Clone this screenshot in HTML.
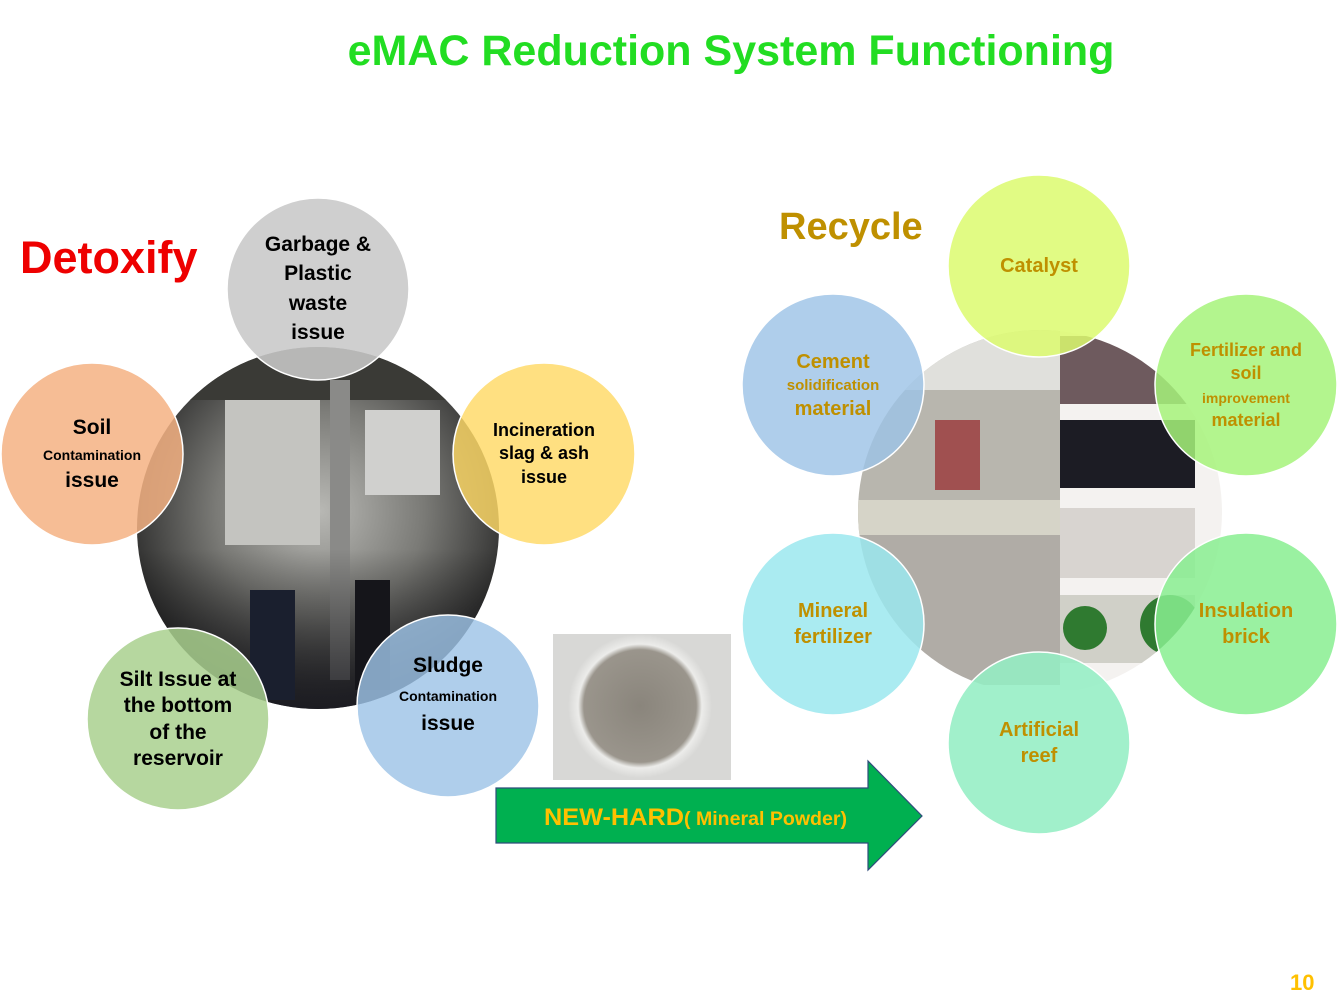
<!DOCTYPE html>
<html><head><meta charset="utf-8"><style>
html,body{margin:0;padding:0;background:#fff;}
svg{display:block;}
text{font-family:"Liberation Sans",sans-serif;font-weight:bold;}
</style></head><body>
<svg width="1344" height="1008" viewBox="0 0 1344 1008" xmlns="http://www.w3.org/2000/svg">
<defs>
<radialGradient id="fac" cx="50%" cy="45%" r="55%">
<stop offset="0" stop-color="#b8b8b4"/><stop offset="0.5" stop-color="#7a7a76"/><stop offset="1" stop-color="#222"/>
</radialGradient>
<linearGradient id="crowd" x1="0" y1="0" x2="0" y2="1">
<stop offset="0" stop-color="#000" stop-opacity="0"/><stop offset="0.55" stop-color="#000" stop-opacity="0"/><stop offset="1" stop-color="#1a1a22" stop-opacity="0.85"/>
</linearGradient>
<radialGradient id="pow" cx="50%" cy="50%" r="50%">
<stop offset="0" stop-color="#8a857c"/><stop offset="0.78" stop-color="#9a958c"/><stop offset="0.86" stop-color="#ececea"/><stop offset="1" stop-color="#d8d8d6"/>
</radialGradient>
<clipPath id="cl"><circle cx="318" cy="528" r="181"/></clipPath>
<clipPath id="cr"><circle cx="1040" cy="512" r="182"/></clipPath>
</defs>

<text x="731" y="65" font-size="43" fill="#22dd22" text-anchor="middle">eMAC Reduction System Functioning</text>
<text x="20" y="273" font-size="45" fill="#ee0000">Detoxify</text>
<text x="779" y="239" font-size="38" fill="#bf9000">Recycle</text>

<!-- left photo -->
<g clip-path="url(#cl)">
<rect x="130" y="340" width="380" height="380" fill="url(#fac)"/>
<rect x="130" y="340" width="380" height="60" fill="#3a3a36"/>
<rect x="225" y="400" width="95" height="145" fill="#c4c4c0"/>
<rect x="365" y="410" width="75" height="85" fill="#d0d0ce"/>
<rect x="330" y="380" width="20" height="300" fill="#8a8a88"/>
<rect x="130" y="340" width="380" height="380" fill="url(#crowd)"/>
<rect x="250" y="590" width="45" height="110" fill="#1a1f2e"/>
<rect x="355" y="580" width="35" height="110" fill="#15151a"/>
</g>
<!-- right photo -->
<g clip-path="url(#cr)">
<rect x="855" y="330" width="205" height="205" fill="#b8b6ae"/>
<rect x="855" y="330" width="205" height="60" fill="#e0e0dc"/>
<rect x="935" y="420" width="45" height="70" fill="#a05050"/>
<rect x="855" y="500" width="205" height="35" fill="#d6d4c8"/>
<rect x="855" y="535" width="205" height="150" fill="#b0aca6"/>
<rect x="1060" y="330" width="165" height="360" fill="#f4f2f0"/>
<rect x="1060" y="336" width="135" height="68" fill="#6e5a5e"/>
<rect x="1060" y="420" width="135" height="68" fill="#1c1c24"/>
<rect x="1060" y="508" width="135" height="70" fill="#d8d4d0"/>
<rect x="1060" y="595" width="135" height="68" fill="#d0d0c8"/>
<circle cx="1085" cy="628" r="22" fill="#2f7a30"/>
<circle cx="1170" cy="625" r="30" fill="#2f7a30"/>
</g>

<!-- powder -->
<rect x="553" y="634" width="178" height="146" fill="#d8d8d6"/>
<circle cx="640" cy="706" r="72" fill="url(#pow)"/>

<!-- arrow -->
<polygon points="496,788 868,788 868,761 922,816 868,870 868,843 496,843" fill="#00b050" stroke="#2e4d7b" stroke-width="1.2"/>
<text x="544" y="825" font-size="24" fill="#ffc000" textLength="140" lengthAdjust="spacingAndGlyphs">NEW-HARD</text>
<text x="684" y="825" font-size="19" fill="#ffc000" textLength="163" lengthAdjust="spacingAndGlyphs">( Mineral Powder)</text>

<!-- left circles -->
<g stroke="#fff" stroke-width="1.5">
<circle cx="318" cy="289" r="91" fill="#c8c8c8" fill-opacity="0.88"/>
<circle cx="92" cy="454" r="91" fill="#f4b183" fill-opacity="0.85"/>
<circle cx="544" cy="454" r="91" fill="#ffd965" fill-opacity="0.82"/>
<circle cx="178" cy="719" r="91" fill="#a9d08e" fill-opacity="0.85"/>
<circle cx="448" cy="706" r="91" fill="#9dc3e6" fill-opacity="0.82"/>
</g>
<g fill="#000" text-anchor="middle" font-size="21">
<text x="318" y="251">Garbage &amp;</text><text x="318" y="280">Plastic</text><text x="318" y="310">waste</text><text x="318" y="339">issue</text>
<text x="92" y="434">Soil</text><text x="92" y="460" font-size="14">Contamination</text><text x="92" y="487">issue</text>
<text x="544" y="436" font-size="18">Incineration</text><text x="544" y="459" font-size="18">slag &amp; ash</text><text x="544" y="483" font-size="18">issue</text>
<text x="178" y="686">Silt Issue at</text><text x="178" y="712">the bottom</text><text x="178" y="739">of the</text><text x="178" y="765">reservoir</text>
<text x="448" y="672">Sludge</text><text x="448" y="701" font-size="14">Contamination</text><text x="448" y="730">issue</text>
</g>

<!-- right circles -->
<g stroke="#fff" stroke-width="1.5">
<circle cx="1039" cy="266" r="91" fill="#dcfa6e" fill-opacity="0.85"/>
<circle cx="833" cy="385" r="91" fill="#9dc3e6" fill-opacity="0.82"/>
<circle cx="1246" cy="385" r="91" fill="#a6f37a" fill-opacity="0.85"/>
<circle cx="833" cy="624" r="91" fill="#9be8ee" fill-opacity="0.85"/>
<circle cx="1246" cy="624" r="91" fill="#88ee90" fill-opacity="0.85"/>
<circle cx="1039" cy="743" r="91" fill="#94eec4" fill-opacity="0.88"/>
</g>
<g fill="#bf9000" text-anchor="middle" font-size="20">
<text x="1039" y="272">Catalyst</text>
<text x="833" y="368">Cement</text><text x="833" y="390" font-size="15">solidification</text><text x="833" y="415">material</text>
<text x="1246" y="356" font-size="18">Fertilizer and</text><text x="1246" y="379" font-size="18">soil</text><text x="1246" y="403" font-size="14">improvement</text><text x="1246" y="426" font-size="18">material</text>
<text x="833" y="617">Mineral</text><text x="833" y="643">fertilizer</text>
<text x="1246" y="617">Insulation</text><text x="1246" y="643">brick</text>
<text x="1039" y="736">Artificial</text><text x="1039" y="762">reef</text>
</g>

<text x="1290" y="990" font-size="22" fill="#ffc000">10</text>
</svg>
</body></html>
